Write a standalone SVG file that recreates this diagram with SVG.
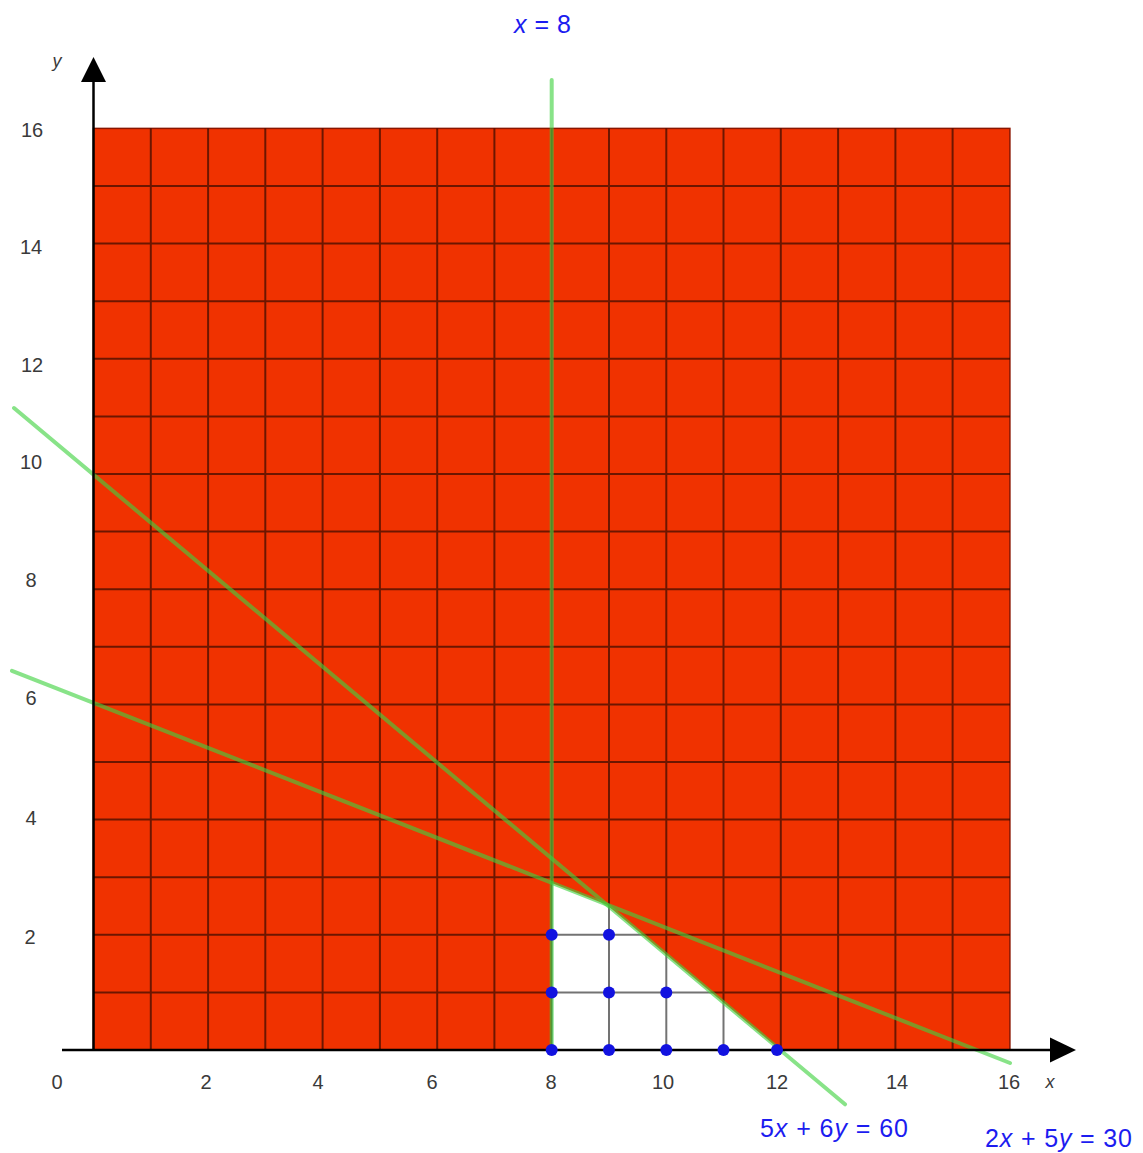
<svg xmlns="http://www.w3.org/2000/svg" width="1143" height="1153" viewBox="0 0 1143 1153">
<defs>
<style>
.tick{font-family:"Liberation Sans",Arial,sans-serif;font-size:20px;fill:#3a3a3a;text-anchor:middle}
.axl{font-family:"Liberation Sans",Arial,sans-serif;font-size:18px;fill:#3a3a3a;font-style:italic;text-anchor:middle}
.eq{font-family:"Liberation Sans",Arial,sans-serif;font-size:25px;fill:#1c1cf0}
.it{font-style:italic}
.grid{fill:none;stroke:#000;stroke-opacity:0.55;stroke-width:2}
.gl{fill:none;stroke:#3fd23f;stroke-opacity:0.62;stroke-width:4;stroke-linecap:round}
.ax{fill:none;stroke:#000;stroke-width:2.5}
.dot{fill:#1212e0}
</style>
</defs>
<rect width="1143" height="1153" fill="#fff"/>
<g id="region">
<rect x="93.5" y="128.4" width="916.4" height="921.6" fill="#f03200" stroke="#8a1500" stroke-width="1.5"/>
<polygon points="551.7,1050 551.7,882.9 606.4,904.4 780.2,1050" fill="#fff"/>
</g>
<g id="grid">
<path class="grid" d="M150.8 128.4V1050M208.1 128.4V1050M265.3 128.4V1050M322.6 128.4V1050M379.9 128.4V1050M437.2 128.4V1050M494.4 128.4V1050M551.7 128.4V1050M609 128.4V1050M666.3 128.4V1050M723.5 128.4V1050M780.8 128.4V1050M838.1 128.4V1050M895.4 128.4V1050M952.6 128.4V1050M93.5 992.4H1009.9M93.5 934.8H1009.9M93.5 877.2H1009.9M93.5 819.6H1009.9M93.5 762H1009.9M93.5 704.4H1009.9M93.5 646.8H1009.9M93.5 589.2H1009.9M93.5 531.6H1009.9M93.5 474H1009.9M93.5 416.4H1009.9M93.5 358.8H1009.9M93.5 301.2H1009.9M93.5 243.6H1009.9M93.5 186H1009.9"/>
</g>
<g id="connectors">
<line id="line-x8" class="gl" x1="551.7" y1="80" x2="551.7" y2="1050"/>
<line id="line-5x6y" class="gl" x1="14" y1="408" x2="845" y2="1104.3"/>
<line id="line-2x5y" class="gl" x1="12" y1="670.8" x2="1010" y2="1063"/>
</g>
<g id="axes">
<line class="ax" x1="93.5" y1="1050" x2="93.5" y2="80"/>
<polygon points="93.5,57 81,82 106,82" fill="#000"/>
<line class="ax" x1="62" y1="1050" x2="1052" y2="1050"/>
<polygon points="1076,1050 1050,1037.5 1050,1062.5" fill="#000"/>
</g>
<g id="points">
<circle class="dot" cx="551.7" cy="1050" r="6"/>
<circle class="dot" cx="609" cy="1050" r="6"/>
<circle class="dot" cx="666.3" cy="1050" r="6"/>
<circle class="dot" cx="723.5" cy="1050" r="6"/>
<circle class="dot" cx="777" cy="1050" r="6"/>
<circle class="dot" cx="551.7" cy="992.4" r="6"/>
<circle class="dot" cx="609" cy="992.4" r="6"/>
<circle class="dot" cx="666.3" cy="992.4" r="6"/>
<circle class="dot" cx="551.7" cy="934.8" r="6"/>
<circle class="dot" cx="609" cy="934.8" r="6"/>
</g>
<g id="ticks">
<text class="tick" x="32" y="137">16</text>
<text class="tick" x="31" y="254">14</text>
<text class="tick" x="32" y="372">12</text>
<text class="tick" x="31" y="469">10</text>
<text class="tick" x="31" y="587">8</text>
<text class="tick" x="31" y="705">6</text>
<text class="tick" x="31" y="825">4</text>
<text class="tick" x="30" y="944">2</text>
<text class="tick" x="57" y="1089">0</text>
<text class="tick" x="206" y="1089">2</text>
<text class="tick" x="318" y="1089">4</text>
<text class="tick" x="432" y="1089">6</text>
<text class="tick" x="551" y="1089">8</text>
<text class="tick" x="663" y="1089">10</text>
<text class="tick" x="777" y="1089">12</text>
<text class="tick" x="897" y="1089">14</text>
<text class="tick" x="1009" y="1089">16</text>
<text class="axl" x="1050" y="1088">x</text>
<text class="axl" x="57" y="67">y</text>
</g>
<g id="labels">
<text class="eq" x="514" y="33" textLength="57" lengthAdjust="spacing"><tspan class="it">x</tspan> = 8</text>
<text class="eq" x="760" y="1137" textLength="148" lengthAdjust="spacing">5<tspan class="it">x</tspan> + 6<tspan class="it">y</tspan> = 60</text>
<text class="eq" x="985" y="1147" textLength="147" lengthAdjust="spacing">2<tspan class="it">x</tspan> + 5<tspan class="it">y</tspan> = 30</text>
</g>
</svg>
